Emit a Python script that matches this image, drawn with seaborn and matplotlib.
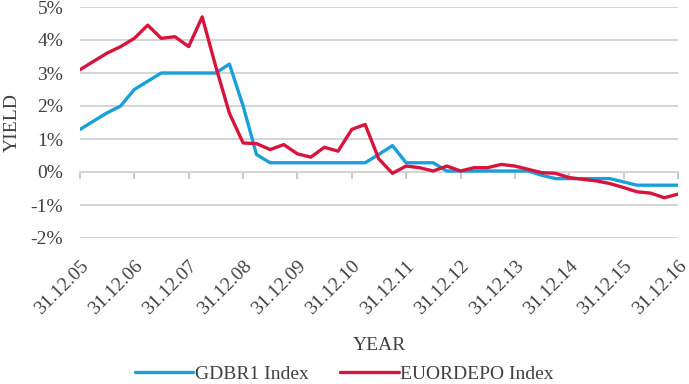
"""
Yield chart: GDBR1 vs EUORDEPO
"""
import matplotlib
matplotlib.use('Agg')
import matplotlib.pyplot as plt
import matplotlib.dates as mdates
from matplotlib.ticker import PercentFormatter
import seaborn as sns
import pandas as pd

# quarterly observations, 31.12.05 .. 31.12.16
dates = pd.date_range('2005-12-31', '2016-12-31', freq='QE')

gdbr1 = [1.29, 1.54, 1.79, 2.0, 2.5, 2.75, 3.0, 3.0, 3.0, 3.0, 3.0, 3.27,
         2.0, 0.53, 0.28, 0.28, 0.28, 0.28, 0.28, 0.28, 0.28, 0.28, 0.53,
         0.8, 0.28, 0.28, 0.28, 0.03, 0.03, 0.03, 0.03, 0.03, 0.03, 0.03,
         -0.1, -0.2, -0.2, -0.2, -0.2, -0.2, -0.3, -0.4, -0.4, -0.4, -0.4]
euordepo = [3.1, 3.35, 3.6, 3.8, 4.05, 4.45, 4.05, 4.1, 3.8, 4.7, 3.2, 1.78,
            0.88, 0.86, 0.68, 0.83, 0.55, 0.45, 0.75, 0.63, 1.29, 1.44, 0.4,
            -0.04, 0.18, 0.13, 0.03, 0.18, 0.03, 0.13, 0.13, 0.23, 0.18, 0.08,
            -0.02, -0.04, -0.17, -0.22, -0.27, -0.35, -0.47, -0.6, -0.64,
            -0.78, -0.67]

series_names = ['GDBR1 Index', 'EUORDEPO Index']
colors = {'GDBR1 Index': '#18a0dc', 'EUORDEPO Index': '#d8143c'}
year_ticks = pd.date_range('2005-12-31', '2016-12-31', freq='YE')
y_ticks = [-2, -1, 0, 1, 2, 3, 4, 5]

df = pd.DataFrame({
    'date': list(dates) * 2,
    'yield': gdbr1 + euordepo,
    'series': [series_names[0]] * len(dates) + [series_names[1]] * len(dates),
})

sns.set_style('white')
plt.rcParams['font.family'] = ['Liberation Serif', 'DejaVu Serif']
plt.rcParams['axes.unicode_minus'] = False
text_color = '#404040'
grid_color = '#d4d4d4'
fs = 14

fig = plt.figure(figsize=(6.89, 3.84), dpi=100)
ax = fig.add_axes([80 / 689, 1 - 238 / 384, (678 - 80) / 689, (238 - 7) / 384])

sns.lineplot(data=df, x='date', y='yield', hue='series', hue_order=series_names,
             palette=colors, linewidth=2.4, ax=ax, legend=False)

ax.set_ylim(-2, 5)
ax.set_xlim(dates[0], dates[-1])
ax.set_yticks(y_ticks)
ax.yaxis.set_major_formatter(PercentFormatter(decimals=0))
ax.grid(True, axis='y', color=grid_color, linewidth=1.4)
ax.grid(False, axis='x')
ax.set_axisbelow(True)
for s in ax.spines.values():
    s.set_visible(False)

ax.set_xticks(year_ticks)
ax.xaxis.set_major_formatter(mdates.DateFormatter('%d.%m.%y'))
ax.tick_params(axis='x', length=0, pad=14, labelsize=fs, labelcolor=text_color)
ax.tick_params(axis='y', length=0, pad=12, labelsize=fs, labelcolor=text_color)
for lbl in ax.get_xticklabels():
    lbl.set_rotation(45)
    lbl.set_ha('right')
    lbl.set_rotation_mode('anchor')

# axis line with tick marks at 0%
sec = ax.secondary_xaxis(2 / 7)
sec.set_xticks(year_ticks)
sec.tick_params(axis='x', direction='out', length=5, width=1.4, color='#c8c8c8',
                labelbottom=False, labeltop=False, bottom=True, top=False)
sec.spines['bottom'].set_color(grid_color)
sec.spines['bottom'].set_linewidth(1.4)
sec.spines['top'].set_visible(False)

ax.set_xlabel('YEAR', fontsize=fs, color=text_color, labelpad=14)
ax.set_ylabel('YIELD', fontsize=fs, color=text_color, labelpad=7)

handles = [plt.Line2D([], [], color=colors[n], linewidth=2.4) for n in series_names]
fig.legend(handles, series_names, loc='center', ncol=2, frameon=False,
           bbox_to_anchor=(0.5, 1 - 374 / 384), fontsize=fs, labelcolor=text_color,
           handlelength=3.0, handletextpad=0.1, columnspacing=1.6, borderpad=0)

fig.savefig('out.png', dpi=100)
